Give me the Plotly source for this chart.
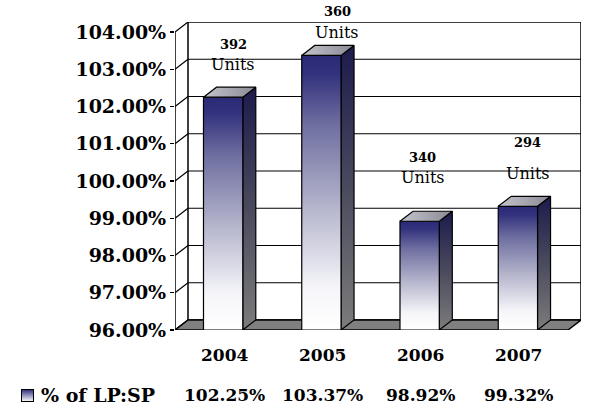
import base64
import plotly.graph_objects as go

# ---------------- data ----------------
years = ["2004", "2005", "2006", "2007"]
pct_lp_sp = [102.25, 103.37, 98.92, 99.32]
units = [392, 360, 340, 294]
series_name = "% of LP:SP"
y_ticks = [96, 97, 98, 99, 100, 101, 102, 103, 104]

# label offsets (pixels) for the "N Units" annotations: (x shift, number y shift, "Units" y shift)
label_x_shift = [9, 15, 2, 9]
label_num_shift = [53, 44, 64, 64]
label_units_shift = [33, 23, 44, 33]

# ---------------- geometry / style ----------------
W, H = 593, 417
FRONT_L, FRONT_R = 175, 568       # front floor edge in px
FRONT_TOP, FRONT_BOT = 32, 330    # 104% and 96% on the front plane
DEPTH_X, DEPTH_Y = 13, 10         # 3-D depth offset in px
ymin, ymax = y_ticks[0], y_ticks[-1]
n = len(years)
px_x = (FRONT_R - FRONT_L) / n
px_y = (FRONT_BOT - FRONT_TOP) / (ymax - ymin)
dx = DEPTH_X / px_x
dy = DEPTH_Y / px_y
bw = 0.4

FONT = "DejaVu Serif"
NAVY = "#2b2a78"

fig = go.Figure()

front_scale = [[0, "#ffffff"], [0.15, "#f6f6fa"], [0.45, "#b4b4cc"], [0.75, "#6e6ea0"], [0.93, "#33327e"], [1, NAVY]]
side_scale = [[0, "#7c7c7c"], [0.5, "#4a4a5e"], [1, "#1c1b4c"]]
top_scale = [[0, "#c4c4cc"], [1, "#8a8a96"]]

for i, v in enumerate(pct_lp_sp):
    xc = i + 0.49
    x0, x1 = xc - bw / 2, xc + bw / 2
    # side face
    fig.add_trace(go.Scatter(
        x=[x1, x1 + dx, x1 + dx, x1, x1], y=[ymin, ymin + dy, v + dy, v, ymin],
        mode="lines", fill="toself", line=dict(color="black", width=1.2),
        fillgradient=dict(type="vertical", colorscale=side_scale),
        hoverinfo="skip", showlegend=False))
    # front face
    fig.add_trace(go.Scatter(
        x=[x0, x1, x1, x0, x0], y=[ymin, ymin, v, v, ymin],
        mode="lines", fill="toself", line=dict(color="black", width=1.2),
        fillgradient=dict(type="vertical", colorscale=front_scale),
        hoverinfo="skip", showlegend=False))
    # top face
    fig.add_trace(go.Scatter(
        x=[x0, x1, x1 + dx, x0 + dx, x0], y=[v, v, v + dy, v + dy, v],
        mode="lines", fill="toself", line=dict(color="black", width=1.2),
        fillgradient=dict(type="horizontal", colorscale=top_scale),
        hoverinfo="skip", showlegend=False))

shapes = []
# back wall
shapes.append(dict(type="rect", xref="x", yref="y", x0=dx, x1=n + dx, y0=ymin + dy, y1=ymax + dy,
                   line=dict(color="black", width=1.5), fillcolor="white", layer="below"))
for t in y_ticks[1:-1]:
    shapes.append(dict(type="line", xref="x", yref="y", x0=dx, x1=n + dx, y0=t + dy, y1=t + dy,
                       line=dict(color="black", width=1), layer="below"))
# left wall
shapes.append(dict(type="line", xref="x", yref="y", x0=0, x1=0, y0=ymin, y1=ymax,
                   line=dict(color="black", width=1.5), layer="below"))
for t in y_ticks:
    shapes.append(dict(type="line", xref="x", yref="y", x0=0, x1=dx, y0=t, y1=t + dy,
                       line=dict(color="black", width=1.2), layer="below"))
# floor
shapes.append(dict(type="path", xref="x", yref="y",
                   path=f"M 0,{ymin} L {n},{ymin} L {n + dx},{ymin + dy} L {dx},{ymin + dy} Z",
                   fillcolor="#808080", line=dict(color="black", width=1.5), layer="below"))

ann = []
for i, (yr, v, u) in enumerate(zip(years, pct_lp_sp, units)):
    xc = i + 0.5
    ann.append(dict(x=xc, y=ymin, xref="x", yref="y", text=yr, showarrow=False, yshift=-25,
                    font=dict(family=FONT, size=17, color="black", weight="bold")))
    ann.append(dict(x=xc, y=ymin, xref="x", yref="y", text=f"{v:.2f}%", showarrow=False, yshift=-65,
                    font=dict(family=FONT, size=17, color="black", weight="bold")))
    ann.append(dict(x=xc, y=v, xref="x", yref="y", text=str(u), showarrow=False,
                    xshift=label_x_shift[i], yshift=label_num_shift[i],
                    font=dict(family=FONT, size=13, color="black", weight="bold")))
    ann.append(dict(x=xc, y=v, xref="x", yref="y", text="Units", showarrow=False,
                    xshift=label_x_shift[i], yshift=label_units_shift[i],
                    font=dict(family=FONT, size=16, color="black")))

ann.append(dict(x=0, y=ymin, xref="x", yref="y", text=series_name, showarrow=False,
                xanchor="left", xshift=-136, yshift=-65,
                font=dict(family=FONT, size=19, color="black", weight="bold")))

svg = ("<svg xmlns='http://www.w3.org/2000/svg' width='13' height='13'><defs>"
       "<linearGradient id='g' x1='0' y1='0' x2='0' y2='1'>"
       f"<stop offset='0' stop-color='{NAVY}'/><stop offset='1' stop-color='#ffffff'/>"
       "</linearGradient></defs><rect x='0.5' y='0.5' width='12' height='12' fill='url(#g)' stroke='black'/></svg>")
src = "data:image/svg+xml;base64," + base64.b64encode(svg.encode()).decode()

plot_w = FRONT_R + DEPTH_X - FRONT_L
plot_h = FRONT_BOT - (FRONT_TOP - DEPTH_Y)
images = [dict(source=src, xref="paper", yref="paper",
               x=(21 - FRONT_L) / plot_w, y=(FRONT_BOT - 389) / plot_h,
               sizex=13 / plot_w, sizey=13 / plot_h, xanchor="left", yanchor="top",
               sizing="stretch", layer="above")]

fig.update_layout(
    width=W, height=H, autosize=False,
    margin=dict(l=FRONT_L, r=W - (FRONT_R + DEPTH_X), t=FRONT_TOP - DEPTH_Y, b=H - FRONT_BOT, pad=0),
    paper_bgcolor="white", plot_bgcolor="white",
    xaxis=dict(range=[0, n + dx], visible=False, fixedrange=True),
    yaxis=dict(range=[ymin, ymax + dy], tickvals=y_ticks, ticktext=[f"{t:.2f}%" for t in y_ticks],
               ticks="outside", ticklen=4, tickcolor="black", tickwidth=1.2,
               showgrid=False, zeroline=False, showline=False,
               tickfont=dict(family=FONT, size=19, color="black", weight="bold"), fixedrange=True),
    shapes=shapes, annotations=ann, images=images, showlegend=False,
)

fig.write_html("out.html", config={"displayModeBar": False, "staticPlot": True},
               post_script="document.body.style.margin='0px';document.body.style.overflow='hidden';")
